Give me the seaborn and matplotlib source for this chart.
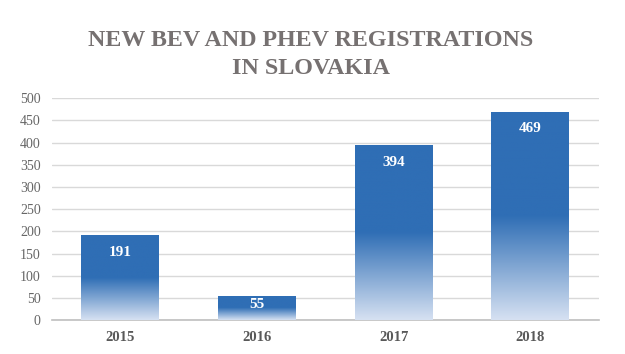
import matplotlib
matplotlib.use("Agg")
import matplotlib.pyplot as plt
import numpy as np
import pandas as pd
import seaborn as sns
from matplotlib.colors import LinearSegmentedColormap

years = ["2015", "2016", "2017", "2018"]
registrations = [191, 55, 394, 469]
title_text = "NEW BEV AND PHEV REGISTRATIONS\nIN SLOVAKIA"

sns.set_theme(style="white")
plt.rcParams['font.family'] = ['Liberation Serif', 'DejaVu Serif']

df = pd.DataFrame({"year": years, "count": registrations})

fig = plt.figure(figsize=(6.25, 3.54), dpi=100)
ax = fig.add_axes([0.083, 0.095, 0.875, 0.628])

sns.barplot(data=df, x="year", y="count", ax=ax, color="#2F6EB5",
            width=0.57, saturation=1, edgecolor="none", zorder=2)

ax.set_ylim(0, 500)
ax.set_xlim(-0.5, 3.5)
ax.set_yticks(np.arange(0, 501, 50))
ax.yaxis.grid(True, color="#D9D9D9", linewidth=1.0, zorder=0)
ax.set_axisbelow(True)
for s in ["top", "right", "left"]:
    ax.spines[s].set_visible(False)
ax.spines["bottom"].set_color("#BFBFBF")
ax.spines["bottom"].set_linewidth(1.2)
ax.set_xlabel("")
ax.set_ylabel("")
ax.tick_params(axis="y", length=0, labelsize=10, labelcolor="#666666", pad=8)
ax.tick_params(axis="x", length=0, labelsize=10.5, labelcolor="#595959", pad=8)
for lbl in ax.get_xticklabels():
    lbl.set_fontweight("bold")

cmap = LinearSegmentedColormap.from_list("g", ["#D6E1F2", "#2F6EB5"])
grad = np.linspace(0, 1, 256).reshape(-1, 1)
grad = np.clip(grad / 0.5, 0, 1)
for p, v in zip(ax.patches, registrations):
    x0 = p.get_x(); w = p.get_width(); h = p.get_height()
    im = ax.imshow(grad, extent=[x0, x0 + w, 0, h], origin="lower",
                   cmap=cmap, aspect="auto", zorder=3, vmin=0, vmax=1)
    im.set_clip_path(p)
    p.set_facecolor("none")
    off = min(38, 0.37 * h)
    ax.text(x0 + w / 2, h - off, str(v), ha="center", va="center",
            color="white", fontsize=11, fontweight="bold", zorder=4)
ax.set_xlim(-0.5, 3.5)
ax.set_ylim(0, 500)

fig.text(0.497, 0.885, "NEW BEV AND PHEV REGISTRATIONS", ha="center", va="center",
         fontsize=17.3, fontweight="bold", color="#767171")
fig.text(0.497, 0.807, "IN SLOVAKIA", ha="center", va="center",
         fontsize=17.3, fontweight="bold", color="#767171")

fig.savefig("out.png", dpi=100, facecolor="white")
